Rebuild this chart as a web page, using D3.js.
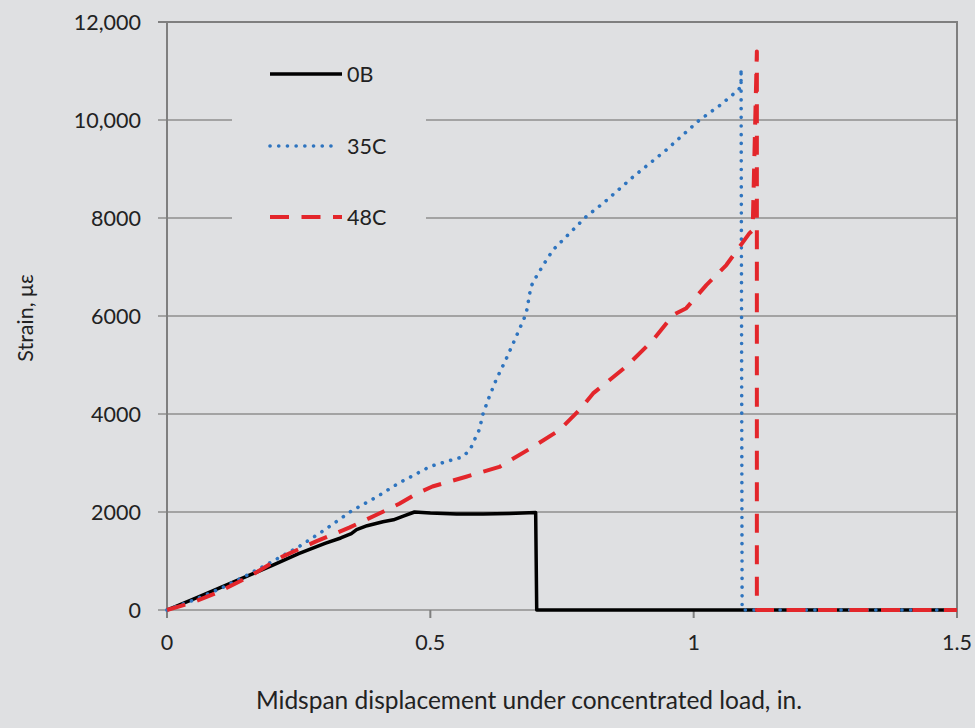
<!DOCTYPE html>
<html><head><meta charset="utf-8">
<script src="https://cdn.jsdelivr.net/npm/d3@7"></script>
<style>
html,body{margin:0;padding:0;background:#dfe0e2;}
svg{display:block;}
text{font-family:Lato,"Open Sans",sans-serif;fill:#222222;}
</style></head>
<body>
<svg id="chart" width="975" height="728"></svg>
<script>
// ---- data ----
const seriesNames = ["0B", "35C", "48C"];
const x0B = [0, 0.05, 0.1, 0.15, 0.2, 0.25, 0.3, 0.33, 0.35, 0.36, 0.38, 0.41, 0.43, 0.45, 0.47, 0.5, 0.55, 0.6, 0.65, 0.7, 0.702, 1.5];
const y0B = [0, 220, 450, 680, 910, 1150, 1360, 1470, 1560, 1640, 1720, 1800, 1840, 1920, 2000, 1980, 1960, 1960, 1970, 1990, 0, 0];
const x35C = [0, 0.05, 0.1, 0.15, 0.2, 0.25, 0.3, 0.35, 0.4, 0.44, 0.5, 0.54, 0.56, 0.575, 0.585, 0.593, 0.6, 0.61, 0.625, 0.643, 0.663, 0.682, 0.691, 0.701, 0.715, 0.733, 0.758, 0.796, 0.828, 0.885, 0.948, 1.011, 1.05, 1.081, 1.09, 1.09, 1.092, 1.5];
const y35C = [0, 200, 430, 700, 990, 1290, 1640, 2020, 2320, 2590, 2930, 3060, 3120, 3260, 3500, 3680, 4000, 4300, 4700, 5100, 5580, 6050, 6600, 6800, 7050, 7350, 7620, 8030, 8300, 8840, 9390, 10000, 10300, 10580, 10680, 11050, 0, 0];
const x48C = [0, 0.05, 0.0925, 0.156, 0.219, 0.283, 0.346, 0.409, 0.441, 0.473, 0.504, 0.536, 0.568, 0.631, 0.695, 0.745, 0.783, 0.809, 0.872, 0.923, 0.961, 0.986, 1.024, 1.062, 1.106, 1.112, 1.12, 1.12, 1.5];
const y48C = [0, 160, 340, 680, 1090, 1400, 1680, 2000, 2170, 2370, 2520, 2620, 2720, 2920, 3330, 3670, 4080, 4420, 4970, 5510, 6020, 6160, 6630, 7040, 7690, 7750, 11400, 0, 0];
const xTicks = [0, 0.5, 1, 1.5];
const xTickLabels = ["0", "0.5", "1", "1.5"];
const yTicks = [0, 2000, 4000, 6000, 8000, 10000, 12000];
const yTickLabels = ["0", "2000", "4000", "6000", "8000", "10,000", "12,000"];
const xTitle = "Midspan displacement under concentrated load, in.";
const yTitle = "Strain, με";

// ---- layout ----
const svg = d3.select("#chart");
const L = 167, R = 957, T = 22, B = 610;
const x = d3.scaleLinear().domain([0, 1.5]).range([L, R]);
const y = d3.scaleLinear().domain([0, 12000]).range([B, T]);
const bg = "#dfe0e2";
svg.append("rect").attr("width", 975).attr("height", 728).attr("fill", bg);

// gridlines + y ticks
const gGrid = svg.append("g");
yTicks.forEach((v, i) => {
  if (v === 12000) return;
  gGrid.append("line").attr("x1", L - 9).attr("x2", R).attr("y1", y(v)).attr("y2", y(v))
    .attr("stroke", "#a3a3a3").attr("stroke-width", 2);
});
// legend background (masks gridlines)
svg.append("rect").attr("x", 232).attr("y", 40).attr("width", 194).attr("height", 200).attr("fill", bg);

// axes frame
const axC = "#7f7f7f";
svg.append("line").attr("x1", L - 9).attr("x2", R + 1).attr("y1", T).attr("y2", T).attr("stroke", axC).attr("stroke-width", 2);
svg.append("line").attr("x1", L).attr("x2", L).attr("y1", T).attr("y2", B + 8).attr("stroke", axC).attr("stroke-width", 2);
svg.append("line").attr("x1", R).attr("x2", R).attr("y1", T).attr("y2", B + 8).attr("stroke", axC).attr("stroke-width", 2);
xTicks.forEach(v => {
  svg.append("line").attr("x1", x(v)).attr("x2", x(v)).attr("y1", B).attr("y2", B + 8).attr("stroke", axC).attr("stroke-width", 2);
});

// tick labels
yTicks.forEach((v, i) => {
  svg.append("text").attr("x", 141).attr("y", y(v)).attr("dy", "0.36em").attr("text-anchor", "end")
    .attr("font-size", 21.5).text(yTickLabels[i]);
});
xTicks.forEach((v, i) => {
  svg.append("text").attr("x", x(v)).attr("y", 642).attr("dy", "0.36em").attr("text-anchor", "middle")
    .attr("font-size", 21.5).text(xTickLabels[i]);
});
// titles
svg.append("text").attr("x", 529).attr("y", 700).attr("dy", "0.36em").attr("text-anchor", "middle")
  .attr("font-size", 24.5).text(xTitle);
svg.append("text").attr("transform", "translate(25,318) rotate(-90)").attr("dy", "0.36em")
  .attr("text-anchor", "middle").attr("font-size", 21.5).text(yTitle);

// series
const styles = [
  {color: "#000000", width: 3.5, dash: null, cap: "butt"},
  {color: "#2e74bf", width: 3.6, dash: "0.1 8.6", cap: "round"},
  {color: "#e3262b", width: 4, dash: "19 12.5", cap: "butt"}
];
const data = [
  x0B.map((d, i) => [d, y0B[i]]),
  x35C.map((d, i) => [d, y35C[i]]),
  x48C.map((d, i) => [d, y48C[i]])
];
const line = d3.line().x(d => x(d[0])).y(d => y(d[1]));
data.forEach((pts, i) => {
  const s = styles[i];
  svg.append("path").attr("d", line(pts)).attr("fill", "none").attr("stroke", s.color)
    .attr("stroke-width", s.width).attr("stroke-dasharray", s.dash).attr("stroke-linecap", s.cap)
    .attr("stroke-linejoin", "round");
});

// legend
const legY = [74, 146, 217];
seriesNames.forEach((n, i) => {
  const s = styles[i];
  svg.append("line").attr("x1", 270).attr("x2", i === 1 ? 339 : 342).attr("y1", legY[i]).attr("y2", legY[i])
    .attr("stroke", s.color).attr("stroke-width", s.width).attr("stroke-dasharray", s.dash)
    .attr("stroke-linecap", s.cap);
  svg.append("text").attr("x", 347).attr("y", legY[i]).attr("dy", "0.36em").attr("font-size", 21.5).text(n);
});
</script>
</body></html>
